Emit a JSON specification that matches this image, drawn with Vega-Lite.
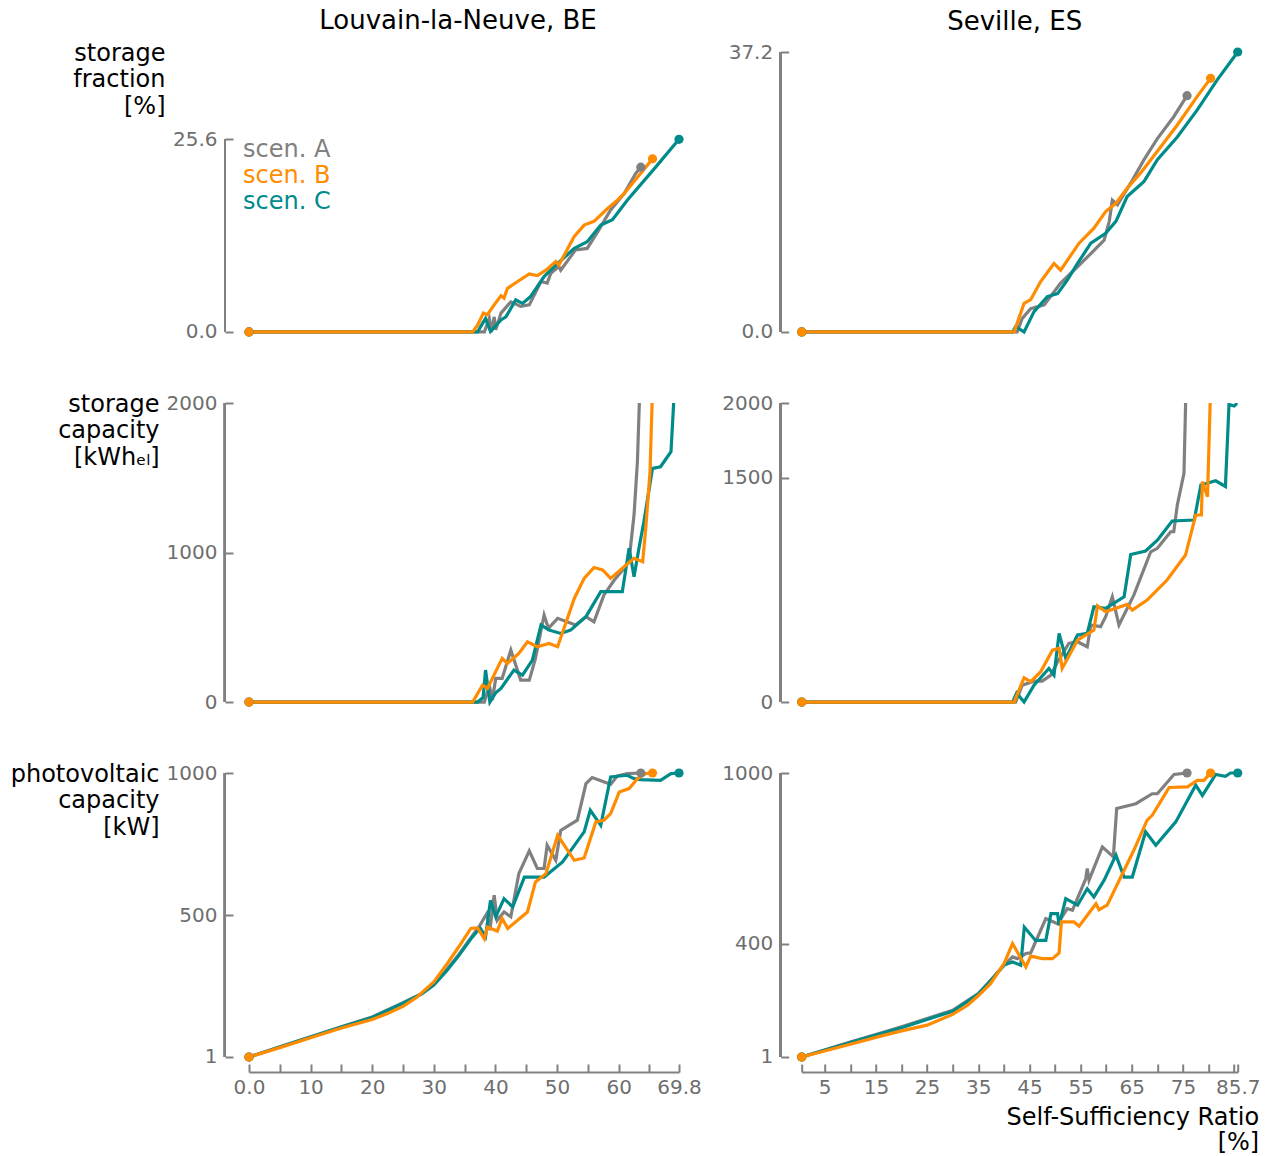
{
"$schema": "https://vega.github.io/schema/vega-lite/v6.json",
"background": "white",
"padding": {"left": 10, "top": 8, "right": 13, "bottom": 8},
"bounds": "flush",
"align": "each",
"columns": 2,
"spacing": {"row": 56, "column": 122.7},
"resolve": {"scale": {"color": "independent"}, "legend": {"color": "independent"}},
"datasets": {"d": [
{"loc":"BE","metric":"frac","scen":"A","ssr":0,"val":0},{"loc":"BE","metric":"frac","scen":"A","ssr":38.2,"val":0},{"loc":"BE","metric":"frac","scen":"A","ssr":39.0,"val":1.8},{"loc":"BE","metric":"frac","scen":"A","ssr":39.35,"val":0},{"loc":"BE","metric":"frac","scen":"A","ssr":39.8,"val":2.0},{"loc":"BE","metric":"frac","scen":"A","ssr":40.05,"val":0.3},{"loc":"BE","metric":"frac","scen":"A","ssr":40.9,"val":2.5},{"loc":"BE","metric":"frac","scen":"A","ssr":42.5,"val":4.0},{"loc":"BE","metric":"frac","scen":"A","ssr":44.1,"val":3.4},{"loc":"BE","metric":"frac","scen":"A","ssr":45.5,"val":3.6},{"loc":"BE","metric":"frac","scen":"A","ssr":47.4,"val":6.7},{"loc":"BE","metric":"frac","scen":"A","ssr":48.4,"val":6.5},{"loc":"BE","metric":"frac","scen":"A","ssr":49.0,"val":7.8},{"loc":"BE","metric":"frac","scen":"A","ssr":50.3,"val":8.7},{"loc":"BE","metric":"frac","scen":"A","ssr":50.6,"val":8.2},{"loc":"BE","metric":"frac","scen":"A","ssr":53.0,"val":10.9},{"loc":"BE","metric":"frac","scen":"A","ssr":54.9,"val":11.1},{"loc":"BE","metric":"frac","scen":"A","ssr":56.6,"val":13.3},{"loc":"BE","metric":"frac","scen":"A","ssr":58.7,"val":16.2},{"loc":"BE","metric":"frac","scen":"A","ssr":60.9,"val":18.4},{"loc":"BE","metric":"frac","scen":"A","ssr":62.8,"val":21.1},{"loc":"BE","metric":"frac","scen":"A","ssr":63.6,"val":21.9},
{"loc":"BE","metric":"frac","scen":"C","ssr":0,"val":0},{"loc":"BE","metric":"frac","scen":"C","ssr":37.1,"val":0},{"loc":"BE","metric":"frac","scen":"C","ssr":37.6,"val":0.7},{"loc":"BE","metric":"frac","scen":"C","ssr":38.4,"val":1.8},{"loc":"BE","metric":"frac","scen":"C","ssr":39.2,"val":0.05},{"loc":"BE","metric":"frac","scen":"C","ssr":40.9,"val":1.6},{"loc":"BE","metric":"frac","scen":"C","ssr":41.7,"val":2.0},{"loc":"BE","metric":"frac","scen":"C","ssr":43.3,"val":4.25},{"loc":"BE","metric":"frac","scen":"C","ssr":44.4,"val":3.8},{"loc":"BE","metric":"frac","scen":"C","ssr":45.7,"val":4.7},{"loc":"BE","metric":"frac","scen":"C","ssr":47.9,"val":7.35},{"loc":"BE","metric":"frac","scen":"C","ssr":50.1,"val":9.1},{"loc":"BE","metric":"frac","scen":"C","ssr":52.8,"val":11.1},{"loc":"BE","metric":"frac","scen":"C","ssr":54.9,"val":12.0},{"loc":"BE","metric":"frac","scen":"C","ssr":57.1,"val":14.2},{"loc":"BE","metric":"frac","scen":"C","ssr":59.0,"val":14.9},{"loc":"BE","metric":"frac","scen":"C","ssr":61.4,"val":17.5},{"loc":"BE","metric":"frac","scen":"C","ssr":65.8,"val":21.7},{"loc":"BE","metric":"frac","scen":"C","ssr":69.8,"val":25.6},
{"loc":"BE","metric":"frac","scen":"B","ssr":0,"val":0},{"loc":"BE","metric":"frac","scen":"B","ssr":36.3,"val":0},{"loc":"BE","metric":"frac","scen":"B","ssr":37.1,"val":0.9},{"loc":"BE","metric":"frac","scen":"B","ssr":38.05,"val":2.5},{"loc":"BE","metric":"frac","scen":"B","ssr":38.7,"val":2.3},{"loc":"BE","metric":"frac","scen":"B","ssr":39.8,"val":3.6},{"loc":"BE","metric":"frac","scen":"B","ssr":40.9,"val":4.8},{"loc":"BE","metric":"frac","scen":"B","ssr":41.4,"val":4.5},{"loc":"BE","metric":"frac","scen":"B","ssr":41.95,"val":5.8},{"loc":"BE","metric":"frac","scen":"B","ssr":43.6,"val":6.7},{"loc":"BE","metric":"frac","scen":"B","ssr":45.5,"val":7.7},{"loc":"BE","metric":"frac","scen":"B","ssr":46.8,"val":7.5},{"loc":"BE","metric":"frac","scen":"B","ssr":48.2,"val":8.2},{"loc":"BE","metric":"frac","scen":"B","ssr":49.8,"val":9.35},{"loc":"BE","metric":"frac","scen":"B","ssr":50.3,"val":8.9},{"loc":"BE","metric":"frac","scen":"B","ssr":52.8,"val":12.7},{"loc":"BE","metric":"frac","scen":"B","ssr":54.4,"val":14.2},{"loc":"BE","metric":"frac","scen":"B","ssr":56.0,"val":14.7},{"loc":"BE","metric":"frac","scen":"B","ssr":58.2,"val":16.4},{"loc":"BE","metric":"frac","scen":"B","ssr":59.8,"val":17.5},{"loc":"BE","metric":"frac","scen":"B","ssr":60.9,"val":18.4},{"loc":"BE","metric":"frac","scen":"B","ssr":62.5,"val":20.0},{"loc":"BE","metric":"frac","scen":"B","ssr":65.5,"val":23.0},
{"loc":"ES","metric":"frac","scen":"A","ssr":0.5,"val":0},{"loc":"ES","metric":"frac","scen":"A","ssr":42.6,"val":0},{"loc":"ES","metric":"frac","scen":"A","ssr":43.6,"val":1.8},{"loc":"ES","metric":"frac","scen":"A","ssr":45.25,"val":3.1},{"loc":"ES","metric":"frac","scen":"A","ssr":47.9,"val":3.6},{"loc":"ES","metric":"frac","scen":"A","ssr":51.1,"val":6.5},{"loc":"ES","metric":"frac","scen":"A","ssr":53.1,"val":7.8},{"loc":"ES","metric":"frac","scen":"A","ssr":57.0,"val":10.4},{"loc":"ES","metric":"frac","scen":"A","ssr":59.6,"val":12.2},{"loc":"ES","metric":"frac","scen":"A","ssr":60.6,"val":14.7},{"loc":"ES","metric":"frac","scen":"A","ssr":61.2,"val":17.5},{"loc":"ES","metric":"frac","scen":"A","ssr":62.2,"val":16.9},{"loc":"ES","metric":"frac","scen":"A","ssr":64.8,"val":19.8},{"loc":"ES","metric":"frac","scen":"A","ssr":67.4,"val":22.9},{"loc":"ES","metric":"frac","scen":"A","ssr":70.0,"val":25.7},{"loc":"ES","metric":"frac","scen":"A","ssr":73.2,"val":28.6},{"loc":"ES","metric":"frac","scen":"A","ssr":75.8,"val":31.4},
{"loc":"ES","metric":"frac","scen":"C","ssr":0.5,"val":0},{"loc":"ES","metric":"frac","scen":"C","ssr":41.7,"val":0},{"loc":"ES","metric":"frac","scen":"C","ssr":42.3,"val":0.7},{"loc":"ES","metric":"frac","scen":"C","ssr":43.95,"val":0},{"loc":"ES","metric":"frac","scen":"C","ssr":45.9,"val":2.7},{"loc":"ES","metric":"frac","scen":"C","ssr":48.5,"val":4.7},{"loc":"ES","metric":"frac","scen":"C","ssr":50.5,"val":5.1},{"loc":"ES","metric":"frac","scen":"C","ssr":52.4,"val":6.9},{"loc":"ES","metric":"frac","scen":"C","ssr":54.4,"val":9.1},{"loc":"ES","metric":"frac","scen":"C","ssr":57.0,"val":11.8},{"loc":"ES","metric":"frac","scen":"C","ssr":59.9,"val":13.1},{"loc":"ES","metric":"frac","scen":"C","ssr":61.9,"val":14.7},{"loc":"ES","metric":"frac","scen":"C","ssr":64.1,"val":18.0},{"loc":"ES","metric":"frac","scen":"C","ssr":67.4,"val":20.0},{"loc":"ES","metric":"frac","scen":"C","ssr":70.0,"val":22.9},{"loc":"ES","metric":"frac","scen":"C","ssr":73.9,"val":25.9},{"loc":"ES","metric":"frac","scen":"C","ssr":77.8,"val":29.5},{"loc":"ES","metric":"frac","scen":"C","ssr":81.7,"val":33.5},{"loc":"ES","metric":"frac","scen":"C","ssr":85.7,"val":37.2},
{"loc":"ES","metric":"frac","scen":"B","ssr":0.5,"val":0},{"loc":"ES","metric":"frac","scen":"B","ssr":42.0,"val":0},{"loc":"ES","metric":"frac","scen":"B","ssr":43.95,"val":3.8},{"loc":"ES","metric":"frac","scen":"B","ssr":45.25,"val":4.3},{"loc":"ES","metric":"frac","scen":"B","ssr":47.2,"val":6.7},{"loc":"ES","metric":"frac","scen":"B","ssr":49.8,"val":9.1},{"loc":"ES","metric":"frac","scen":"B","ssr":51.1,"val":8.2},{"loc":"ES","metric":"frac","scen":"B","ssr":54.7,"val":11.8},{"loc":"ES","metric":"frac","scen":"B","ssr":57.6,"val":13.8},{"loc":"ES","metric":"frac","scen":"B","ssr":59.9,"val":16.0},{"loc":"ES","metric":"frac","scen":"B","ssr":61.9,"val":17.1},{"loc":"ES","metric":"frac","scen":"B","ssr":64.1,"val":19.1},{"loc":"ES","metric":"frac","scen":"B","ssr":66.7,"val":21.1},{"loc":"ES","metric":"frac","scen":"B","ssr":70.0,"val":24.0},{"loc":"ES","metric":"frac","scen":"B","ssr":73.9,"val":27.5},{"loc":"ES","metric":"frac","scen":"B","ssr":77.8,"val":31.3},{"loc":"ES","metric":"frac","scen":"B","ssr":80.4,"val":33.7},
{"loc":"BE","metric":"cap","scen":"A","ssr":0,"val":0},{"loc":"BE","metric":"cap","scen":"A","ssr":38.2,"val":0},{"loc":"BE","metric":"cap","scen":"A","ssr":39.0,"val":113},{"loc":"BE","metric":"cap","scen":"A","ssr":39.5,"val":13},{"loc":"BE","metric":"cap","scen":"A","ssr":40.05,"val":158},{"loc":"BE","metric":"cap","scen":"A","ssr":41.1,"val":158},{"loc":"BE","metric":"cap","scen":"A","ssr":42.5,"val":347},{"loc":"BE","metric":"cap","scen":"A","ssr":44.1,"val":147},{"loc":"BE","metric":"cap","scen":"A","ssr":45.5,"val":147},{"loc":"BE","metric":"cap","scen":"A","ssr":46.5,"val":292},{"loc":"BE","metric":"cap","scen":"A","ssr":47.9,"val":582},{"loc":"BE","metric":"cap","scen":"A","ssr":48.6,"val":493},{"loc":"BE","metric":"cap","scen":"A","ssr":50.1,"val":560},{"loc":"BE","metric":"cap","scen":"A","ssr":53.0,"val":515},{"loc":"BE","metric":"cap","scen":"A","ssr":54.7,"val":571},{"loc":"BE","metric":"cap","scen":"A","ssr":56.0,"val":537},{"loc":"BE","metric":"cap","scen":"A","ssr":57.6,"val":715},{"loc":"BE","metric":"cap","scen":"A","ssr":59.3,"val":816},{"loc":"BE","metric":"cap","scen":"A","ssr":60.9,"val":894},{"loc":"BE","metric":"cap","scen":"A","ssr":61.7,"val":950},{"loc":"BE","metric":"cap","scen":"A","ssr":62.5,"val":1251},{"loc":"BE","metric":"cap","scen":"A","ssr":63.05,"val":1607},{"loc":"BE","metric":"cap","scen":"A","ssr":63.6,"val":2300},
{"loc":"BE","metric":"cap","scen":"C","ssr":0,"val":0},{"loc":"BE","metric":"cap","scen":"C","ssr":37.1,"val":0},{"loc":"BE","metric":"cap","scen":"C","ssr":38.0,"val":30},{"loc":"BE","metric":"cap","scen":"C","ssr":38.4,"val":214},{"loc":"BE","metric":"cap","scen":"C","ssr":39.1,"val":0},{"loc":"BE","metric":"cap","scen":"C","ssr":40.0,"val":60},{"loc":"BE","metric":"cap","scen":"C","ssr":40.9,"val":91},{"loc":"BE","metric":"cap","scen":"C","ssr":43.0,"val":214},{"loc":"BE","metric":"cap","scen":"C","ssr":44.4,"val":180},{"loc":"BE","metric":"cap","scen":"C","ssr":46.0,"val":281},{"loc":"BE","metric":"cap","scen":"C","ssr":47.4,"val":515},{"loc":"BE","metric":"cap","scen":"C","ssr":48.7,"val":481},{"loc":"BE","metric":"cap","scen":"C","ssr":50.6,"val":459},{"loc":"BE","metric":"cap","scen":"C","ssr":52.2,"val":481},{"loc":"BE","metric":"cap","scen":"C","ssr":54.7,"val":571},{"loc":"BE","metric":"cap","scen":"C","ssr":57.1,"val":738},{"loc":"BE","metric":"cap","scen":"C","ssr":60.6,"val":738},{"loc":"BE","metric":"cap","scen":"C","ssr":61.7,"val":1028},{"loc":"BE","metric":"cap","scen":"C","ssr":62.5,"val":838},{"loc":"BE","metric":"cap","scen":"C","ssr":63.3,"val":1028},{"loc":"BE","metric":"cap","scen":"C","ssr":64.1,"val":1206},{"loc":"BE","metric":"cap","scen":"C","ssr":65.5,"val":1563},{"loc":"BE","metric":"cap","scen":"C","ssr":66.8,"val":1574},{"loc":"BE","metric":"cap","scen":"C","ssr":68.5,"val":1674},{"loc":"BE","metric":"cap","scen":"C","ssr":69.0,"val":2050},{"loc":"BE","metric":"cap","scen":"C","ssr":69.8,"val":2600},
{"loc":"BE","metric":"cap","scen":"B","ssr":0,"val":0},{"loc":"BE","metric":"cap","scen":"B","ssr":36.3,"val":0},{"loc":"BE","metric":"cap","scen":"B","ssr":37.9,"val":113},{"loc":"BE","metric":"cap","scen":"B","ssr":38.7,"val":91},{"loc":"BE","metric":"cap","scen":"B","ssr":41.1,"val":292},{"loc":"BE","metric":"cap","scen":"B","ssr":41.95,"val":258},{"loc":"BE","metric":"cap","scen":"B","ssr":43.8,"val":325},{"loc":"BE","metric":"cap","scen":"B","ssr":45.2,"val":403},{"loc":"BE","metric":"cap","scen":"B","ssr":46.8,"val":370},{"loc":"BE","metric":"cap","scen":"B","ssr":48.7,"val":392},{"loc":"BE","metric":"cap","scen":"B","ssr":50.1,"val":370},{"loc":"BE","metric":"cap","scen":"B","ssr":52.8,"val":693},{"loc":"BE","metric":"cap","scen":"B","ssr":54.4,"val":827},{"loc":"BE","metric":"cap","scen":"B","ssr":56.0,"val":900},{"loc":"BE","metric":"cap","scen":"B","ssr":57.4,"val":883},{"loc":"BE","metric":"cap","scen":"B","ssr":58.7,"val":827},{"loc":"BE","metric":"cap","scen":"B","ssr":60.9,"val":905},{"loc":"BE","metric":"cap","scen":"B","ssr":62.5,"val":961},{"loc":"BE","metric":"cap","scen":"B","ssr":63.9,"val":938},{"loc":"BE","metric":"cap","scen":"B","ssr":64.4,"val":1161},{"loc":"BE","metric":"cap","scen":"B","ssr":65.1,"val":1541},{"loc":"BE","metric":"cap","scen":"B","ssr":65.5,"val":2100},
{"loc":"ES","metric":"cap","scen":"A","ssr":0.5,"val":0},{"loc":"ES","metric":"cap","scen":"A","ssr":42.3,"val":0},{"loc":"ES","metric":"cap","scen":"A","ssr":43.6,"val":113},{"loc":"ES","metric":"cap","scen":"A","ssr":45.9,"val":140},{"loc":"ES","metric":"cap","scen":"A","ssr":47.5,"val":140},{"loc":"ES","metric":"cap","scen":"A","ssr":49.2,"val":180},{"loc":"ES","metric":"cap","scen":"A","ssr":50.5,"val":269},{"loc":"ES","metric":"cap","scen":"A","ssr":52.7,"val":392},{"loc":"ES","metric":"cap","scen":"A","ssr":54.4,"val":403},{"loc":"ES","metric":"cap","scen":"A","ssr":56.3,"val":370},{"loc":"ES","metric":"cap","scen":"A","ssr":57.0,"val":515},{"loc":"ES","metric":"cap","scen":"A","ssr":58.9,"val":504},{"loc":"ES","metric":"cap","scen":"A","ssr":59.9,"val":571},{"loc":"ES","metric":"cap","scen":"A","ssr":61.2,"val":704},{"loc":"ES","metric":"cap","scen":"A","ssr":62.5,"val":515},{"loc":"ES","metric":"cap","scen":"A","ssr":65.4,"val":715},{"loc":"ES","metric":"cap","scen":"A","ssr":68.7,"val":1005},{"loc":"ES","metric":"cap","scen":"A","ssr":70.0,"val":1028},{"loc":"ES","metric":"cap","scen":"A","ssr":72.6,"val":1139},{"loc":"ES","metric":"cap","scen":"A","ssr":73.2,"val":1139},{"loc":"ES","metric":"cap","scen":"A","ssr":73.9,"val":1318},{"loc":"ES","metric":"cap","scen":"A","ssr":75.2,"val":1530},{"loc":"ES","metric":"cap","scen":"A","ssr":75.8,"val":2400},
{"loc":"ES","metric":"cap","scen":"C","ssr":0.5,"val":0},{"loc":"ES","metric":"cap","scen":"C","ssr":41.7,"val":0},{"loc":"ES","metric":"cap","scen":"C","ssr":42.5,"val":60},{"loc":"ES","metric":"cap","scen":"C","ssr":43.95,"val":0},{"loc":"ES","metric":"cap","scen":"C","ssr":45.9,"val":113},{"loc":"ES","metric":"cap","scen":"C","ssr":48.8,"val":225},{"loc":"ES","metric":"cap","scen":"C","ssr":49.8,"val":180},{"loc":"ES","metric":"cap","scen":"C","ssr":50.8,"val":459},{"loc":"ES","metric":"cap","scen":"C","ssr":52.1,"val":292},{"loc":"ES","metric":"cap","scen":"C","ssr":54.4,"val":448},{"loc":"ES","metric":"cap","scen":"C","ssr":56.3,"val":459},{"loc":"ES","metric":"cap","scen":"C","ssr":57.6,"val":637},{"loc":"ES","metric":"cap","scen":"C","ssr":59.9,"val":626},{"loc":"ES","metric":"cap","scen":"C","ssr":63.5,"val":704},{"loc":"ES","metric":"cap","scen":"C","ssr":64.8,"val":987},{"loc":"ES","metric":"cap","scen":"C","ssr":67.7,"val":1010},{"loc":"ES","metric":"cap","scen":"C","ssr":70.0,"val":1083},{"loc":"ES","metric":"cap","scen":"C","ssr":72.9,"val":1211},{"loc":"ES","metric":"cap","scen":"C","ssr":77.2,"val":1217},{"loc":"ES","metric":"cap","scen":"C","ssr":78.5,"val":1451},{"loc":"ES","metric":"cap","scen":"C","ssr":81.4,"val":1480},{"loc":"ES","metric":"cap","scen":"C","ssr":83.3,"val":1442},{"loc":"ES","metric":"cap","scen":"C","ssr":84.0,"val":1990},{"loc":"ES","metric":"cap","scen":"C","ssr":85.0,"val":1980},{"loc":"ES","metric":"cap","scen":"C","ssr":85.5,"val":1995},{"loc":"ES","metric":"cap","scen":"C","ssr":85.7,"val":2300},
{"loc":"ES","metric":"cap","scen":"B","ssr":0.5,"val":0},{"loc":"ES","metric":"cap","scen":"B","ssr":42.0,"val":0},{"loc":"ES","metric":"cap","scen":"B","ssr":43.95,"val":162},{"loc":"ES","metric":"cap","scen":"B","ssr":45.25,"val":136},{"loc":"ES","metric":"cap","scen":"B","ssr":47.2,"val":203},{"loc":"ES","metric":"cap","scen":"B","ssr":49.5,"val":347},{"loc":"ES","metric":"cap","scen":"B","ssr":50.8,"val":359},{"loc":"ES","metric":"cap","scen":"B","ssr":51.4,"val":225},{"loc":"ES","metric":"cap","scen":"B","ssr":54.4,"val":414},{"loc":"ES","metric":"cap","scen":"B","ssr":57.6,"val":481},{"loc":"ES","metric":"cap","scen":"B","ssr":58.3,"val":644},{"loc":"ES","metric":"cap","scen":"B","ssr":59.9,"val":604},{"loc":"ES","metric":"cap","scen":"B","ssr":64.1,"val":653},{"loc":"ES","metric":"cap","scen":"B","ssr":65.1,"val":615},{"loc":"ES","metric":"cap","scen":"B","ssr":68.0,"val":682},{"loc":"ES","metric":"cap","scen":"B","ssr":71.9,"val":816},{"loc":"ES","metric":"cap","scen":"B","ssr":75.5,"val":983},{"loc":"ES","metric":"cap","scen":"B","ssr":77.5,"val":1251},{"loc":"ES","metric":"cap","scen":"B","ssr":78.6,"val":1251},{"loc":"ES","metric":"cap","scen":"B","ssr":78.8,"val":1474},{"loc":"ES","metric":"cap","scen":"B","ssr":79.8,"val":1373},{"loc":"ES","metric":"cap","scen":"B","ssr":80.4,"val":2100},
{"loc":"BE","metric":"pv","scen":"A","ssr":0,"val":1},{"loc":"BE","metric":"pv","scen":"A","ssr":5,"val":37},{"loc":"BE","metric":"pv","scen":"A","ssr":10,"val":72},{"loc":"BE","metric":"pv","scen":"A","ssr":15,"val":107},{"loc":"BE","metric":"pv","scen":"A","ssr":20,"val":142},{"loc":"BE","metric":"pv","scen":"A","ssr":25,"val":192},{"loc":"BE","metric":"pv","scen":"A","ssr":28,"val":224},{"loc":"BE","metric":"pv","scen":"A","ssr":30,"val":257},{"loc":"BE","metric":"pv","scen":"A","ssr":32,"val":305},{"loc":"BE","metric":"pv","scen":"A","ssr":34,"val":360},{"loc":"BE","metric":"pv","scen":"A","ssr":36,"val":420},{"loc":"BE","metric":"pv","scen":"A","ssr":37.5,"val":465},{"loc":"BE","metric":"pv","scen":"A","ssr":38.6,"val":505},{"loc":"BE","metric":"pv","scen":"A","ssr":39.1,"val":447},{"loc":"BE","metric":"pv","scen":"A","ssr":39.8,"val":570},{"loc":"BE","metric":"pv","scen":"A","ssr":40.3,"val":482},{"loc":"BE","metric":"pv","scen":"A","ssr":41.4,"val":511},{"loc":"BE","metric":"pv","scen":"A","ssr":42.5,"val":494},{"loc":"BE","metric":"pv","scen":"A","ssr":43.8,"val":646},{"loc":"BE","metric":"pv","scen":"A","ssr":45.5,"val":726},{"loc":"BE","metric":"pv","scen":"A","ssr":46.8,"val":664},{"loc":"BE","metric":"pv","scen":"A","ssr":47.9,"val":664},{"loc":"BE","metric":"pv","scen":"A","ssr":48.4,"val":746},{"loc":"BE","metric":"pv","scen":"A","ssr":49.8,"val":693},{"loc":"BE","metric":"pv","scen":"A","ssr":50.6,"val":798},{"loc":"BE","metric":"pv","scen":"A","ssr":53.3,"val":834},{"loc":"BE","metric":"pv","scen":"A","ssr":54.7,"val":963},{"loc":"BE","metric":"pv","scen":"A","ssr":55.7,"val":984},{"loc":"BE","metric":"pv","scen":"A","ssr":58.7,"val":960},{"loc":"BE","metric":"pv","scen":"A","ssr":59.8,"val":990},{"loc":"BE","metric":"pv","scen":"A","ssr":61.4,"val":998},{"loc":"BE","metric":"pv","scen":"A","ssr":63.6,"val":1000},
{"loc":"BE","metric":"pv","scen":"C","ssr":0,"val":1},{"loc":"BE","metric":"pv","scen":"C","ssr":5,"val":36},{"loc":"BE","metric":"pv","scen":"C","ssr":10,"val":71},{"loc":"BE","metric":"pv","scen":"C","ssr":15,"val":106},{"loc":"BE","metric":"pv","scen":"C","ssr":20,"val":140},{"loc":"BE","metric":"pv","scen":"C","ssr":25,"val":190},{"loc":"BE","metric":"pv","scen":"C","ssr":28,"val":222},{"loc":"BE","metric":"pv","scen":"C","ssr":30,"val":254},{"loc":"BE","metric":"pv","scen":"C","ssr":32,"val":302},{"loc":"BE","metric":"pv","scen":"C","ssr":34,"val":356},{"loc":"BE","metric":"pv","scen":"C","ssr":36,"val":416},{"loc":"BE","metric":"pv","scen":"C","ssr":37.5,"val":455},{"loc":"BE","metric":"pv","scen":"C","ssr":38.4,"val":425},{"loc":"BE","metric":"pv","scen":"C","ssr":39.2,"val":552},{"loc":"BE","metric":"pv","scen":"C","ssr":40.05,"val":494},{"loc":"BE","metric":"pv","scen":"C","ssr":41.4,"val":558},{"loc":"BE","metric":"pv","scen":"C","ssr":42.8,"val":529},{"loc":"BE","metric":"pv","scen":"C","ssr":44.7,"val":634},{"loc":"BE","metric":"pv","scen":"C","ssr":47.9,"val":634},{"loc":"BE","metric":"pv","scen":"C","ssr":50.9,"val":687},{"loc":"BE","metric":"pv","scen":"C","ssr":54.4,"val":793},{"loc":"BE","metric":"pv","scen":"C","ssr":55.4,"val":869},{"loc":"BE","metric":"pv","scen":"C","ssr":57.1,"val":816},{"loc":"BE","metric":"pv","scen":"C","ssr":58.7,"val":986},{"loc":"BE","metric":"pv","scen":"C","ssr":61.4,"val":992},{"loc":"BE","metric":"pv","scen":"C","ssr":62.5,"val":980},{"loc":"BE","metric":"pv","scen":"C","ssr":63.6,"val":977},{"loc":"BE","metric":"pv","scen":"C","ssr":66.8,"val":974},{"loc":"BE","metric":"pv","scen":"C","ssr":68.5,"val":998},{"loc":"BE","metric":"pv","scen":"C","ssr":69.8,"val":1000},
{"loc":"BE","metric":"pv","scen":"B","ssr":0,"val":1},{"loc":"BE","metric":"pv","scen":"B","ssr":5,"val":34},{"loc":"BE","metric":"pv","scen":"B","ssr":10,"val":69},{"loc":"BE","metric":"pv","scen":"B","ssr":15,"val":103},{"loc":"BE","metric":"pv","scen":"B","ssr":20,"val":133},{"loc":"BE","metric":"pv","scen":"B","ssr":22.5,"val":154},{"loc":"BE","metric":"pv","scen":"B","ssr":25,"val":179},{"loc":"BE","metric":"pv","scen":"B","ssr":27.3,"val":212},{"loc":"BE","metric":"pv","scen":"B","ssr":30,"val":265},{"loc":"BE","metric":"pv","scen":"B","ssr":32.2,"val":330},{"loc":"BE","metric":"pv","scen":"B","ssr":34.4,"val":400},{"loc":"BE","metric":"pv","scen":"B","ssr":36.0,"val":453},{"loc":"BE","metric":"pv","scen":"B","ssr":37.1,"val":455},{"loc":"BE","metric":"pv","scen":"B","ssr":38.2,"val":417},{"loc":"BE","metric":"pv","scen":"B","ssr":38.7,"val":458},{"loc":"BE","metric":"pv","scen":"B","ssr":40.3,"val":444},{"loc":"BE","metric":"pv","scen":"B","ssr":41.1,"val":488},{"loc":"BE","metric":"pv","scen":"B","ssr":42.0,"val":453},{"loc":"BE","metric":"pv","scen":"B","ssr":45.2,"val":511},{"loc":"BE","metric":"pv","scen":"B","ssr":46.5,"val":617},{"loc":"BE","metric":"pv","scen":"B","ssr":48.2,"val":646},{"loc":"BE","metric":"pv","scen":"B","ssr":50.1,"val":781},{"loc":"BE","metric":"pv","scen":"B","ssr":52.8,"val":693},{"loc":"BE","metric":"pv","scen":"B","ssr":54.4,"val":701},{"loc":"BE","metric":"pv","scen":"B","ssr":56.3,"val":828},{"loc":"BE","metric":"pv","scen":"B","ssr":57.6,"val":834},{"loc":"BE","metric":"pv","scen":"B","ssr":58.7,"val":857},{"loc":"BE","metric":"pv","scen":"B","ssr":60.1,"val":933},{"loc":"BE","metric":"pv","scen":"B","ssr":61.7,"val":945},{"loc":"BE","metric":"pv","scen":"B","ssr":63.05,"val":980},{"loc":"BE","metric":"pv","scen":"B","ssr":64.4,"val":998},{"loc":"BE","metric":"pv","scen":"B","ssr":65.5,"val":1000},
{"loc":"ES","metric":"pv","scen":"A","ssr":0.5,"val":1},{"loc":"ES","metric":"pv","scen":"A","ssr":10,"val":54},{"loc":"ES","metric":"pv","scen":"A","ssr":15,"val":80},{"loc":"ES","metric":"pv","scen":"A","ssr":20,"val":107},{"loc":"ES","metric":"pv","scen":"A","ssr":25,"val":136},{"loc":"ES","metric":"pv","scen":"A","ssr":30,"val":165},{"loc":"ES","metric":"pv","scen":"A","ssr":35,"val":224},{"loc":"ES","metric":"pv","scen":"A","ssr":37.4,"val":271},{"loc":"ES","metric":"pv","scen":"A","ssr":40.05,"val":324},{"loc":"ES","metric":"pv","scen":"A","ssr":41.7,"val":353},{"loc":"ES","metric":"pv","scen":"A","ssr":42.65,"val":347},{"loc":"ES","metric":"pv","scen":"A","ssr":44.3,"val":365},{"loc":"ES","metric":"pv","scen":"A","ssr":45.25,"val":367},{"loc":"ES","metric":"pv","scen":"A","ssr":48.2,"val":488},{"loc":"ES","metric":"pv","scen":"A","ssr":50.5,"val":470},{"loc":"ES","metric":"pv","scen":"A","ssr":52.4,"val":523},{"loc":"ES","metric":"pv","scen":"A","ssr":53.4,"val":517},{"loc":"ES","metric":"pv","scen":"A","ssr":56.0,"val":628},{"loc":"ES","metric":"pv","scen":"A","ssr":56.3,"val":664},{"loc":"ES","metric":"pv","scen":"A","ssr":56.65,"val":623},{"loc":"ES","metric":"pv","scen":"A","ssr":59.25,"val":740},{"loc":"ES","metric":"pv","scen":"A","ssr":61.4,"val":705},{"loc":"ES","metric":"pv","scen":"A","ssr":62.05,"val":875},{"loc":"ES","metric":"pv","scen":"A","ssr":65.8,"val":892},{"loc":"ES","metric":"pv","scen":"A","ssr":69.0,"val":927},{"loc":"ES","metric":"pv","scen":"A","ssr":70.0,"val":927},{"loc":"ES","metric":"pv","scen":"A","ssr":73.25,"val":995},{"loc":"ES","metric":"pv","scen":"A","ssr":75.8,"val":1000},
{"loc":"ES","metric":"pv","scen":"C","ssr":0.5,"val":1},{"loc":"ES","metric":"pv","scen":"C","ssr":10,"val":52},{"loc":"ES","metric":"pv","scen":"C","ssr":15,"val":78},{"loc":"ES","metric":"pv","scen":"C","ssr":20,"val":104},{"loc":"ES","metric":"pv","scen":"C","ssr":25,"val":133},{"loc":"ES","metric":"pv","scen":"C","ssr":30,"val":162},{"loc":"ES","metric":"pv","scen":"C","ssr":35,"val":222},{"loc":"ES","metric":"pv","scen":"C","ssr":37.4,"val":268},{"loc":"ES","metric":"pv","scen":"C","ssr":40.05,"val":325},{"loc":"ES","metric":"pv","scen":"C","ssr":41.7,"val":335},{"loc":"ES","metric":"pv","scen":"C","ssr":43.3,"val":324},{"loc":"ES","metric":"pv","scen":"C","ssr":44.0,"val":458},{"loc":"ES","metric":"pv","scen":"C","ssr":46.2,"val":411},{"loc":"ES","metric":"pv","scen":"C","ssr":48.2,"val":411},{"loc":"ES","metric":"pv","scen":"C","ssr":49.2,"val":505},{"loc":"ES","metric":"pv","scen":"C","ssr":50.5,"val":505},{"loc":"ES","metric":"pv","scen":"C","ssr":50.8,"val":464},{"loc":"ES","metric":"pv","scen":"C","ssr":52.1,"val":558},{"loc":"ES","metric":"pv","scen":"C","ssr":54.4,"val":535},{"loc":"ES","metric":"pv","scen":"C","ssr":56.3,"val":593},{"loc":"ES","metric":"pv","scen":"C","ssr":57.6,"val":564},{"loc":"ES","metric":"pv","scen":"C","ssr":59.6,"val":623},{"loc":"ES","metric":"pv","scen":"C","ssr":61.9,"val":711},{"loc":"ES","metric":"pv","scen":"C","ssr":63.5,"val":634},{"loc":"ES","metric":"pv","scen":"C","ssr":65.1,"val":634},{"loc":"ES","metric":"pv","scen":"C","ssr":67.7,"val":793},{"loc":"ES","metric":"pv","scen":"C","ssr":69.7,"val":746},{"loc":"ES","metric":"pv","scen":"C","ssr":73.6,"val":828},{"loc":"ES","metric":"pv","scen":"C","ssr":77.5,"val":957},{"loc":"ES","metric":"pv","scen":"C","ssr":78.8,"val":921},{"loc":"ES","metric":"pv","scen":"C","ssr":81.4,"val":995},{"loc":"ES","metric":"pv","scen":"C","ssr":83.3,"val":988},{"loc":"ES","metric":"pv","scen":"C","ssr":84.3,"val":1000},{"loc":"ES","metric":"pv","scen":"C","ssr":85.7,"val":1000},
{"loc":"ES","metric":"pv","scen":"B","ssr":0.5,"val":1},{"loc":"ES","metric":"pv","scen":"B","ssr":10,"val":46},{"loc":"ES","metric":"pv","scen":"B","ssr":15,"val":70},{"loc":"ES","metric":"pv","scen":"B","ssr":20,"val":93},{"loc":"ES","metric":"pv","scen":"B","ssr":25,"val":113},{"loc":"ES","metric":"pv","scen":"B","ssr":30,"val":151},{"loc":"ES","metric":"pv","scen":"B","ssr":32.9,"val":183},{"loc":"ES","metric":"pv","scen":"B","ssr":35.1,"val":218},{"loc":"ES","metric":"pv","scen":"B","ssr":37.4,"val":259},{"loc":"ES","metric":"pv","scen":"B","ssr":40.05,"val":330},{"loc":"ES","metric":"pv","scen":"B","ssr":41.7,"val":400},{"loc":"ES","metric":"pv","scen":"B","ssr":44.3,"val":318},{"loc":"ES","metric":"pv","scen":"B","ssr":45.25,"val":356},{"loc":"ES","metric":"pv","scen":"B","ssr":47.5,"val":347},{"loc":"ES","metric":"pv","scen":"B","ssr":49.5,"val":347},{"loc":"ES","metric":"pv","scen":"B","ssr":50.8,"val":367},{"loc":"ES","metric":"pv","scen":"B","ssr":51.25,"val":476},{"loc":"ES","metric":"pv","scen":"B","ssr":53.7,"val":476},{"loc":"ES","metric":"pv","scen":"B","ssr":54.7,"val":461},{"loc":"ES","metric":"pv","scen":"B","ssr":58.0,"val":540},{"loc":"ES","metric":"pv","scen":"B","ssr":58.6,"val":519},{"loc":"ES","metric":"pv","scen":"B","ssr":60.2,"val":535},{"loc":"ES","metric":"pv","scen":"B","ssr":63.5,"val":658},{"loc":"ES","metric":"pv","scen":"B","ssr":65.4,"val":728},{"loc":"ES","metric":"pv","scen":"B","ssr":68.0,"val":834},{"loc":"ES","metric":"pv","scen":"B","ssr":69.0,"val":851},{"loc":"ES","metric":"pv","scen":"B","ssr":72.3,"val":949},{"loc":"ES","metric":"pv","scen":"B","ssr":75.9,"val":951},{"loc":"ES","metric":"pv","scen":"B","ssr":77.8,"val":974},{"loc":"ES","metric":"pv","scen":"B","ssr":79.1,"val":974},{"loc":"ES","metric":"pv","scen":"B","ssr":80.4,"val":1000}
]},
"concat": [
{
 "width": 430, "height": 295,
 "title": {"text": "Louvain-la-Neuve, BE", "frame": "group", "anchor": "middle", "offset": 7, "dx": -6},
 "data": {"name": "d"},
 "transform": [{"filter": "datum.loc === 'BE' && datum.metric === 'frac'"}],
 "encoding": {
  "x": {"field": "ssr", "type": "quantitative", "scale": {"domain": [0, 69.8], "nice": false, "zero": false}, "axis": null},
  "y": {"field": "val", "type": "quantitative", "scale": {"domain": [-2, 37.2], "nice": false, "zero": false},
        "axis": {"values": [0, 25.6], "format": ".1f", "offset": 24, "domain": false, "title": ["storage", "fraction", "[%]"], "titleAngle": 0, "titleAlign": "right", "titleBaseline": "top", "titleX": -60, "titleY": -11, "titleLineHeight": 26.5}},
  "color": {"field": "scen", "type": "nominal", "scale": {"domain": ["A", "B", "C"], "range": ["#808080", "#ff8c00", "#008b8b"]},
            "legend": {"orient": "none", "legendX": -30, "legendY": 86, "title": null, "padding": 0, "labelExpr": "'scen. ' + datum.label", "symbolSize": 0, "symbolOpacity": 0, "symbolStrokeWidth": 0, "labelOffset": 0, "labelFontSize": 24, "labelFont": "DejaVu Sans", "labelLimit": 300, "rowPadding": 2, "labelColor": {"expr": "datum.value === 'A' ? '#808080' : (datum.value === 'B' ? '#ff8c00' : '#008b8b')"}}}
 },
 "layer": [
  {"mark": {"type": "line", "strokeWidth": 3.2}},
  {"transform": [{"joinaggregate": [{"op": "min", "field": "ssr", "as": "lo"}, {"op": "max", "field": "ssr", "as": "hi"}], "groupby": ["scen"]}, {"filter": "(datum.ssr === datum.lo || datum.ssr === datum.hi) && datum.val <= 2000"}],
   "mark": {"type": "circle", "size": 85, "opacity": 1}},
  {"mark": {"type": "rule", "strokeWidth": 2, "clip": false}, "encoding": {"x": {"datum": -3.9}, "y": {"datum": 0}, "y2": {"datum": 25.6}, "color": {"value": "#808080"}}}
 ]
},
{
 "width": 436, "height": 295,
 "title": {"text": "Seville, ES", "frame": "group", "anchor": "middle", "offset": 7, "dx": -5},
 "data": {"name": "d"},
 "transform": [{"filter": "datum.loc === 'ES' && datum.metric === 'frac'"}],
 "encoding": {
  "x": {"field": "ssr", "type": "quantitative", "scale": {"domain": [0.5, 85.7], "nice": false, "zero": false}, "axis": null},
  "y": {"field": "val", "type": "quantitative", "scale": {"domain": [-2, 37.2], "nice": false, "zero": false},
        "axis": {"values": [0, 37.2], "format": ".1f", "offset": 21, "domain": false, "title": null}},
  "color": {"field": "scen", "type": "nominal", "scale": {"domain": ["A", "B", "C"], "range": ["#808080", "#ff8c00", "#008b8b"]}, "legend": null}
 },
 "layer": [
  {"mark": {"type": "line", "strokeWidth": 3.2}},
  {"transform": [{"joinaggregate": [{"op": "min", "field": "ssr", "as": "lo"}, {"op": "max", "field": "ssr", "as": "hi"}], "groupby": ["scen"]}, {"filter": "(datum.ssr === datum.lo || datum.ssr === datum.hi) && datum.val <= 2000"}],
   "mark": {"type": "circle", "size": 85, "opacity": 1}},
  {"mark": {"type": "rule", "strokeWidth": 2, "clip": false}, "encoding": {"x": {"datum": -3.6}, "y": {"datum": 0}, "y2": {"datum": 37.2}, "color": {"value": "#808080"}}}
 ]
},
{
 "width": 430, "height": 314,
 "data": {"name": "d"},
 "transform": [{"filter": "datum.loc === 'BE' && datum.metric === 'cap'"}],
 "encoding": {
  "x": {"field": "ssr", "type": "quantitative", "scale": {"domain": [0, 69.8], "nice": false, "zero": false}, "axis": null},
  "y": {"field": "val", "type": "quantitative", "scale": {"domain": [-100, 2000], "nice": false, "zero": false},
        "axis": {"values": [0, 1000, 2000], "format": "d", "offset": 24, "domain": false, "title": ["storage", "capacity", "[kWhₑₗ]"], "titleAngle": 0, "titleAlign": "right", "titleBaseline": "top", "titleX": -66, "titleY": -11, "titleLineHeight": 26.5}},
  "color": {"field": "scen", "type": "nominal", "scale": {"domain": ["A", "B", "C"], "range": ["#808080", "#ff8c00", "#008b8b"]}, "legend": null}
 },
 "layer": [
  {"mark": {"type": "line", "strokeWidth": 3.2, "clip": true}},
  {"transform": [{"joinaggregate": [{"op": "min", "field": "ssr", "as": "lo"}, {"op": "max", "field": "ssr", "as": "hi"}], "groupby": ["scen"]}, {"filter": "(datum.ssr === datum.lo || datum.ssr === datum.hi) && datum.val <= 2000"}],
   "mark": {"type": "circle", "size": 85, "opacity": 1}},
  {"mark": {"type": "rule", "strokeWidth": 2, "clip": false}, "encoding": {"x": {"datum": -3.9}, "y": {"datum": 0}, "y2": {"datum": 2000}, "color": {"value": "#808080"}}}
 ]
},
{
 "width": 436, "height": 314,
 "data": {"name": "d"},
 "transform": [{"filter": "datum.loc === 'ES' && datum.metric === 'cap'"}],
 "encoding": {
  "x": {"field": "ssr", "type": "quantitative", "scale": {"domain": [0.5, 85.7], "nice": false, "zero": false}, "axis": null},
  "y": {"field": "val", "type": "quantitative", "scale": {"domain": [-100, 2000], "nice": false, "zero": false},
        "axis": {"values": [0, 1500, 2000], "format": "d", "offset": 21, "domain": false, "title": null}},
  "color": {"field": "scen", "type": "nominal", "scale": {"domain": ["A", "B", "C"], "range": ["#808080", "#ff8c00", "#008b8b"]}, "legend": null}
 },
 "layer": [
  {"mark": {"type": "line", "strokeWidth": 3.2, "clip": true}},
  {"transform": [{"joinaggregate": [{"op": "min", "field": "ssr", "as": "lo"}, {"op": "max", "field": "ssr", "as": "hi"}], "groupby": ["scen"]}, {"filter": "(datum.ssr === datum.lo || datum.ssr === datum.hi) && datum.val <= 2000"}],
   "mark": {"type": "circle", "size": 85, "opacity": 1}},
  {"mark": {"type": "rule", "strokeWidth": 2, "clip": false}, "encoding": {"x": {"datum": -3.6}, "y": {"datum": 0}, "y2": {"datum": 2000}, "color": {"value": "#808080"}}}
 ]
},
{
 "width": 430, "height": 299,
 "data": {"name": "d"},
 "transform": [{"filter": "datum.loc === 'BE' && datum.metric === 'pv'"}],
 "encoding": {
  "x": {"field": "ssr", "type": "quantitative", "scale": {"domain": [0, 69.8], "nice": false, "zero": false},
        "axis": {"values": [0, 5, 10, 15, 20, 25, 30, 35, 40, 45, 50, 55, 60, 65, 69.8], "offset": 0, "title": null,
                 "labelExpr": "datum.value === 0 ? '0.0' : (datum.value === 69.8 ? '69.8' : (datum.value % 10 === 0 ? format(datum.value, 'd') : ''))"}},
  "y": {"field": "val", "type": "quantitative", "scale": {"domain": [-51.8, 1000], "nice": false, "zero": false},
        "axis": {"values": [1, 500, 1000], "format": "d", "offset": 24, "domain": false, "title": ["photovoltaic", "capacity", "[kW]"], "titleAngle": 0, "titleAlign": "right", "titleBaseline": "top", "titleX": -66, "titleY": -11, "titleLineHeight": 26.5}},
  "color": {"field": "scen", "type": "nominal", "scale": {"domain": ["A", "B", "C"], "range": ["#808080", "#ff8c00", "#008b8b"]}, "legend": null}
 },
 "layer": [
  {"mark": {"type": "line", "strokeWidth": 3.2}},
  {"transform": [{"joinaggregate": [{"op": "min", "field": "ssr", "as": "lo"}, {"op": "max", "field": "ssr", "as": "hi"}], "groupby": ["scen"]}, {"filter": "(datum.ssr === datum.lo || datum.ssr === datum.hi) && datum.val <= 2000"}],
   "mark": {"type": "circle", "size": 85, "opacity": 1}},
  {"mark": {"type": "rule", "strokeWidth": 2, "clip": false}, "encoding": {"x": {"datum": -3.9}, "y": {"datum": 1}, "y2": {"datum": 1000}, "color": {"value": "#808080"}}}
 ]
},
{
 "width": 436, "height": 299,
 "data": {"name": "d"},
 "transform": [{"filter": "datum.loc === 'ES' && datum.metric === 'pv'"}],
 "encoding": {
  "x": {"field": "ssr", "type": "quantitative", "scale": {"domain": [0.5, 85.7], "nice": false, "zero": false},
        "axis": {"values": [0.5, 5, 10, 15, 20, 25, 30, 35, 40, 45, 50, 55, 60, 65, 70, 75, 80, 85, 85.7], "offset": 0,
                 "labelExpr": "datum.value === 85.7 ? '85.7' : ((datum.value % 10 === 5 && datum.value < 80) ? format(datum.value, 'd') : '')",
                 "title": ["Self-Sufficiency Ratio", "[%]"], "titleAlign": "right", "titleAnchor": "end", "titleBaseline": "top", "titleX": 457, "titleY": 33, "titleLineHeight": 25}},
  "y": {"field": "val", "type": "quantitative", "scale": {"domain": [-51.8, 1000], "nice": false, "zero": false},
        "axis": {"values": [1, 400, 1000], "format": "d", "offset": 21, "domain": false, "title": null}},
  "color": {"field": "scen", "type": "nominal", "scale": {"domain": ["A", "B", "C"], "range": ["#808080", "#ff8c00", "#008b8b"]}, "legend": null}
 },
 "layer": [
  {"mark": {"type": "line", "strokeWidth": 3.2}},
  {"transform": [{"joinaggregate": [{"op": "min", "field": "ssr", "as": "lo"}, {"op": "max", "field": "ssr", "as": "hi"}], "groupby": ["scen"]}, {"filter": "(datum.ssr === datum.lo || datum.ssr === datum.hi) && datum.val <= 2000"}],
   "mark": {"type": "circle", "size": 85, "opacity": 1}},
  {"mark": {"type": "rule", "strokeWidth": 2, "clip": false}, "encoding": {"x": {"datum": -3.6}, "y": {"datum": 1}, "y2": {"datum": 1000}, "color": {"value": "#808080"}}}
 ]
}
],
"config": {
 "view": {"stroke": null},
 "font": "DejaVu Sans",
 "title": {"font": "DejaVu Sans", "fontSize": 26, "fontWeight": "normal", "color": "black"},
 "axis": {"grid": false, "domainColor": "#808080", "domainWidth": 2, "tickColor": "#808080", "tickWidth": 2, "tickSize": -8,
          "labelColor": "#6e6e6e", "labelFont": "DejaVu Sans", "labelFontSize": 20, "labelFlush": false, "labelOverlap": false, "labelBound": false,
          "titleFont": "DejaVu Sans", "titleFontSize": 24, "titleFontWeight": "normal", "titleColor": "black"},
 "axisX": {"labelPadding": 13},
 "axisY": {"labelPadding": 16}
}
}
